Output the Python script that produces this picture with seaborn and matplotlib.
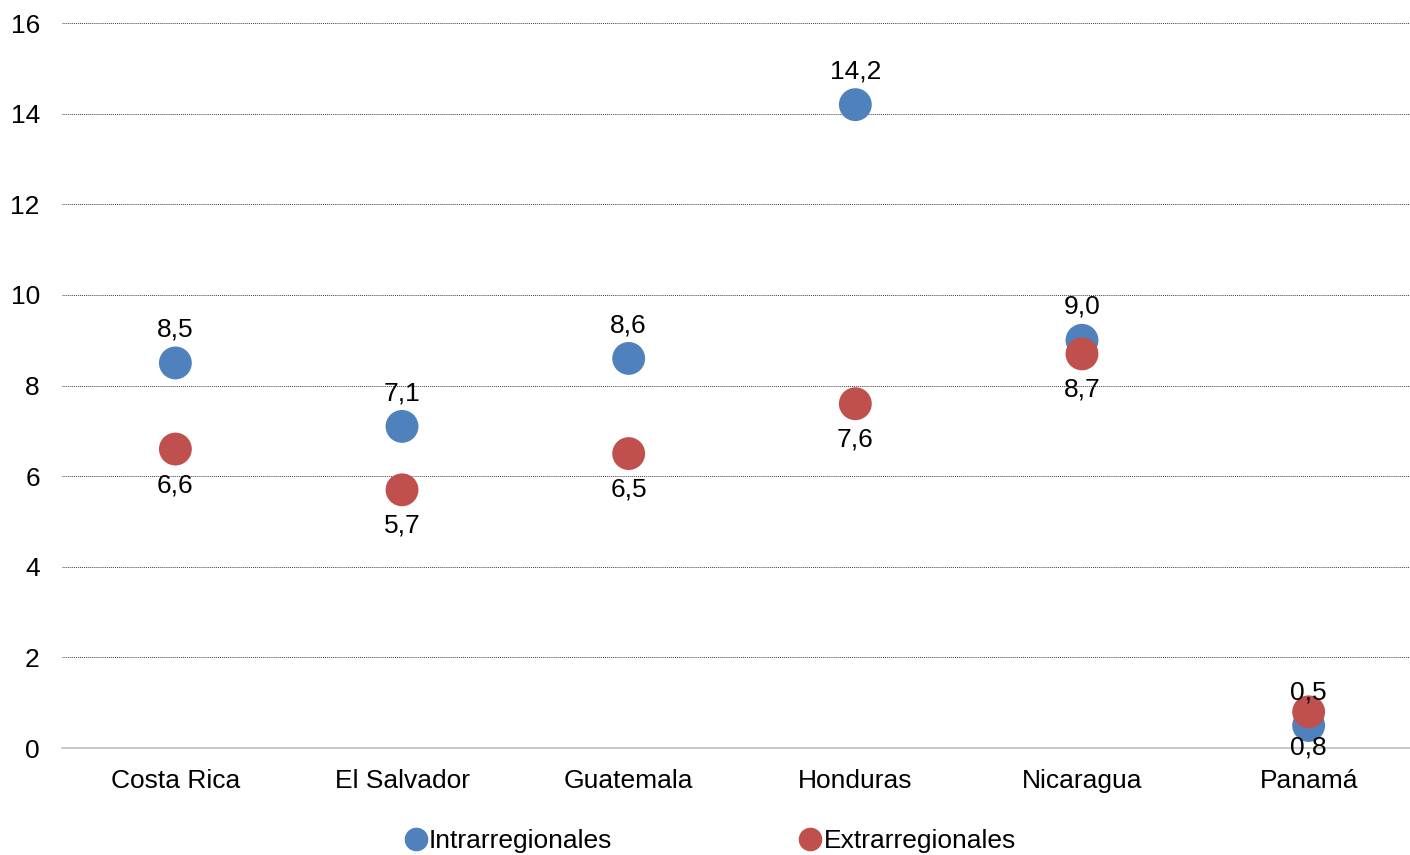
import pandas as pd
import matplotlib
matplotlib.use('Agg')
import matplotlib.pyplot as plt
import seaborn as sns

# datos
paises = ['Costa Rica', 'El Salvador', 'Guatemala', 'Honduras', 'Nicaragua', 'Panamá']
intrarregionales = [8.5, 7.1, 8.6, 14.2, 9.0, 0.5]
extrarregionales = [6.6, 5.7, 6.5, 7.6, 8.7, 0.8]
series = ['Intrarregionales', 'Extrarregionales']
colores = ['#4F81BD', '#C0504D']
y_ticks = [0, 2, 4, 6, 8, 10, 12, 14, 16]

sns.set_theme(style='white')
plt.rcParams['font.family'] = ['Liberation Sans', 'DejaVu Sans']
plt.rcParams['text.color'] = 'black'


def fmt(v):
    return f'{v:.1f}'.replace('.', ',')


def main():
    df = pd.DataFrame({
        'pais': paises * 2,
        'valor': intrarregionales + extrarregionales,
        'serie': [series[0]] * len(paises) + [series[1]] * len(paises),
    })

    fig = plt.figure(figsize=(14.1, 8.55), dpi=100)
    ax = fig.add_axes([0.044, 0.125, 0.9645, 0.848])

    sns.scatterplot(data=df, x='pais', y='valor', hue='serie', palette=colores,
                    s=560, linewidth=0, ax=ax, legend=False, zorder=3)

    # etiquetas de datos: azul arriba, rojo abajo
    for i, v in enumerate(intrarregionales):
        ax.annotate(fmt(v), (i, v), xytext=(0, 24), textcoords='offset points',
                    ha='center', va='center', fontsize=19, color='black', zorder=4)
    for i, v in enumerate(extrarregionales):
        ax.annotate(fmt(v), (i, v), xytext=(0, -26), textcoords='offset points',
                    ha='center', va='center', fontsize=19, color='black', zorder=4)

    ax.set_xlim(-0.5, len(paises) - 0.5)
    ax.set_ylim(0, 16)
    ax.set_yticks(y_ticks)
    ax.yaxis.grid(True, linestyle=(0, (1, 1)), color='#404040', linewidth=0.7)
    ax.xaxis.grid(False)
    for s in ['top', 'right', 'left']:
        ax.spines[s].set_visible(False)
    ax.spines['bottom'].set_color('#BFBFBF')
    ax.spines['bottom'].set_linewidth(1.2)
    ax.tick_params(axis='both', length=0, labelsize=19, colors='black')
    ax.tick_params(axis='y', pad=16)
    ax.tick_params(axis='x', pad=15)
    ax.set_xlabel('')
    ax.set_ylabel('')

    handles = [plt.Line2D([], [], marker='o', linestyle='', markersize=17,
                          markerfacecolor=c, markeredgewidth=0) for c in colores]
    fig.legend(handles, series, loc='center', bbox_to_anchor=(0.502, 0.016),
               ncol=2, frameon=False, fontsize=19, handletextpad=-0.1,
               columnspacing=6.9, handlelength=1.2, labelcolor='black')

    fig.savefig('out.png', dpi=100)
    plt.close(fig)


if __name__ == "__main__":
    main()
